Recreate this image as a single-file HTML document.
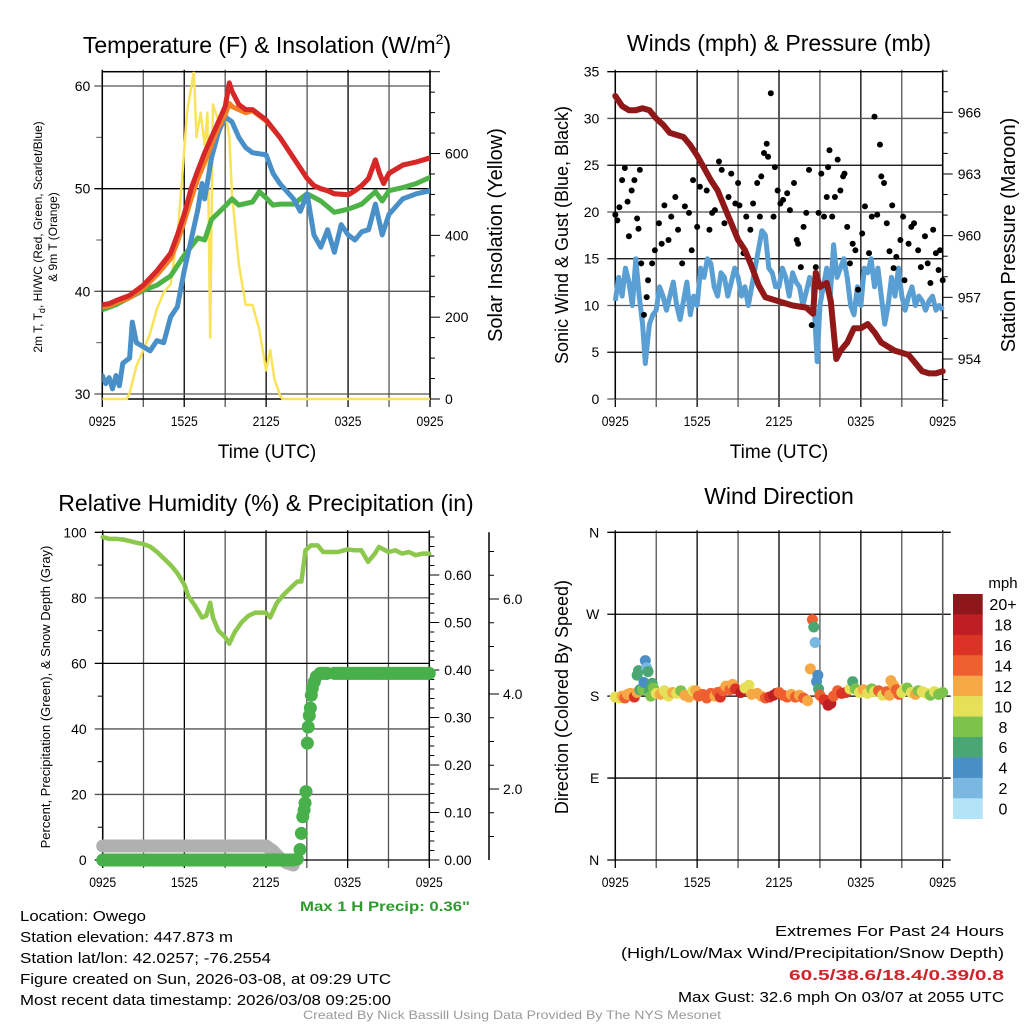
<!DOCTYPE html>
<html><head><meta charset="utf-8"><style>
html,body{margin:0;padding:0;background:#fff;}
svg{display:block;font-family:"Liberation Sans",sans-serif;}
</style></head><body>
<svg id="s" width="1024" height="1024" viewBox="0 0 1024 1024" xmlns="http://www.w3.org/2000/svg"></svg>
<script>
// ---------- DATA ----------
const timeLabels = ["0925","1525","2125","0325","0925"];
const tRedH = [0,0.5,1,2,3,4,5,5.5,6,6.5,7,7.5,8,8.5,9,9.3,9.5,10,10.5,11,11.5,12,13,14,15,15.5,16,16.5,17,18,18.5,19,19.5,20,20.3,20.6,21,22,23,24];
const tRed = [38.7,38.8,39.1,39.6,40.6,42,43.7,45.5,47.5,50,51.8,53.5,55,56.5,58,60.3,59.5,58.2,57.7,57.7,57.2,56.7,55,53,51,50.3,50,49.8,49.5,49.4,49.8,50.3,51,52.8,51.5,50.5,51.5,52.3,52.6,53];
const tOrange = [38.5,38.6,38.9,39.4,40.3,41.6,43.2,44.8,46.8,49,51,52.6,54.3,56,57.2,58.3,58,57.7,57.4,57.6,57.1,56.6,55,53,51,50.3,50,49.8,49.5,49.4,49.8,50.3,51,52.8,51.5,50.5,51.5,52.3,52.6,53];
const tGreenH = [0,1,2,3,4,5,6,7,7.5,8,9,9.5,10,11,11.5,12,12.5,13,14,15,16,17,18,19,20,20.5,21,22,23,24];
const tGreen = [38.2,38.7,39.4,40.1,40.6,41.5,43.5,45.2,45.0,47,48.3,49,48.4,48.7,49.7,49.1,48.4,48.5,48.5,49.5,48.8,47.7,48,48.5,49.7,48.8,49.8,50.1,50.5,51.1];
const tBlueH = [0,0.25,0.5,0.75,1,1.25,1.5,2,2.2,2.5,3,3.5,4,4.5,5,5.5,6,6.5,7,7.3,7.5,8,8.5,9,9.5,10,10.5,11,12,12.5,13,14,14.5,15,15.5,16,16.5,17,17.5,18,18.5,19,19.5,20,20.5,21,22,23,24];
const tBlue = [31.8,31,31.6,30.5,31.8,30.8,33,33.5,37,35,34.6,34.2,35.2,35,37.5,38.5,42,45,48,50.5,49,53,55.5,57,56.5,55,54,53.5,53.3,51.5,50.5,49,47.8,49.5,45.5,44.3,46,43.8,46.5,45.5,45,45.8,46,48.5,45.5,47.5,49,49.5,49.8];
const solarH = [0,1.8,2,2.5,3,3.5,4,4.5,5,5.5,5.8,6.2,6.5,6.7,6.9,7.2,7.5,7.7,7.9,8.1,8.5,9,9.3,9.5,10,10.5,11,11.5,12,12.3,12.6,13,13.2,24];
const solar = [0,0,15,80,120,160,220,260,280,400,520,700,760,800,640,700,620,700,150,720,680,700,640,500,330,230,230,170,70,120,50,10,0,0];
const windH = [0,0.25,0.5,0.75,1,1.25,1.5,1.75,2,2.2,2.5,2.75,3,3.25,3.5,3.75,4,4.25,4.5,4.75,5,5.25,5.5,5.75,6,6.25,6.5,6.75,7,7.25,7.5,7.75,8,8.25,8.5,8.75,9,9.25,9.5,9.75,10,10.25,10.5,10.75,11,11.25,11.5,11.75,12,12.25,12.5,12.75,13,13.25,13.5,13.75,14,14.25,14.5,14.8,15,15.25,15.5,15.75,16,16.25,16.5,16.75,17,17.25,17.5,17.75,18,18.25,18.5,18.75,19,19.25,19.5,19.75,20,20.25,20.5,20.75,21,21.25,21.5,21.75,22,22.25,22.5,22.75,23,23.25,23.5,23.75,24];
const wind = [10.5,13,11,14,12.5,10,15,11,8,3.8,8,9,9.5,12,11,9.5,11,12.5,10,8.5,10.5,12.5,9,11,10,14,13,15,14.5,12,11,13.5,13,11,12.5,14,13,11,12,10,12,14,16,18,17.5,14,13.5,12,12,14,13,11,13.5,12.5,12,10,11.5,13,12,4,10,12,14,11,16.5,13,14,15,13,10,9,12,10,14,13.5,15,12,14,11,8,10,13,11,14,11,9.5,11,12,10,11,10.5,9.5,10.5,11,9.5,10,9.5];
const presH = [0,0.5,1,1.5,2,2.5,3,3.5,4,5,5.5,6,6.5,7,7.5,8,8.5,9,9.5,10,10.5,11,12,13,14,14.5,14.7,15,15.5,15.8,16.2,16.5,17,17.5,18,18.5,19,19.5,20,20.5,21,21.5,22,22.5,23,23.5,24];
const pres = [966.8,966.3,966.1,966.1,966.2,966.1,965.7,965.4,965.0,964.8,964.4,963.9,963.3,962.7,962.2,961.4,960.6,959.8,959.3,958.5,957.6,957.0,956.8,956.6,956.5,956.2,958.2,957.5,957.7,956.8,954.0,954.4,954.8,955.5,955.5,955.7,955.3,954.8,954.6,954.4,954.3,954.2,953.8,953.4,953.3,953.3,953.4];
const gustH = [0,0.15,0.3,0.5,0.7,0.9,1.0,1.2,1.4,1.6,1.8,1.7,1.9,2.1,2.3,2.4,2.7,2.9,3.2,3.4,3.6,3.9,4.1,4.4,4.6,4.9,5.1,5.4,5.6,5.7,6.0,6.2,6.5,6.7,6.9,7.1,7.3,7.6,7.8,8.0,8.3,8.5,8.8,9.0,9.1,9.4,9.6,9.9,10.1,10.4,10.6,10.7,10.9,11.1,11.2,11.4,11.6,11.7,11.9,12.1,12.3,12.6,12.8,13.1,13.3,13.4,13.6,13.8,14.0,14.2,14.4,14.7,14.9,15.1,15.3,15.5,15.6,15.7,15.9,16.1,16.3,16.5,16.7,16.8,17.0,17.2,17.4,17.6,17.8,18.1,18.3,18.6,18.8,19.0,19.2,19.4,19.5,19.7,19.9,20.1,20.3,20.4,20.6,20.9,21.1,21.2,21.5,21.7,21.9,22.2,22.4,22.7,22.9,23.1,23.3,23.5,23.7,23.8,24];
const gust = [19.7,19.1,20.5,23.4,24.7,21.1,17.4,22.3,23.4,19.3,24.5,18.2,14.5,9,10.9,12.7,14.5,15.9,18.8,16.6,20.7,17,19.5,21.6,18.1,14.5,20.6,19.9,15.9,23.4,18.4,22.7,24.8,22.3,18.1,19.9,20.2,25.4,24.5,18.8,21.6,24.1,20.9,23.1,20.7,15.6,19.5,18.1,20.9,23.1,19.5,23.8,26.3,27.3,25.9,32.7,19.5,24.8,22.3,20.9,21.3,22,20.2,23.1,17,16.6,14.1,18.4,19.9,24.5,7.9,14.1,19.9,24.1,19.5,21.6,24.8,26.6,19.5,21.6,25.6,22.3,23.8,24.1,18.4,14.5,16.6,15.9,11.7,17.7,20.6,15.6,19.5,30.2,19.7,27.2,23.8,23.1,18.8,15.8,20.7,14,15.2,17,19.5,12.7,16.6,18.4,18.8,15.9,14.1,17.4,14.5,12.4,18.1,15.6,13.8,15.9,12.7];
const rhH = [0,0.5,1,1.5,2,2.5,3,3.5,4,4.5,5,5.5,6,6.3,6.8,7.3,7.6,7.9,8.1,8.5,9,9.3,9.7,10.2,10.7,11.2,12,12.3,12.8,13.3,13.8,14.3,14.6,14.9,15.3,15.8,16.2,16.7,17.3,18,18.5,19,19.5,20,20.3,21,21.5,22,22.5,23,23.5,24];
const rh = [98.5,98,98,97.8,97.3,96.8,96.4,95.6,94,92,90,87.5,84,80.5,77.5,74,74.5,78.5,74,70,68,66,69.5,72.5,74.5,75.5,75.5,74,78.5,81,83,85,85,94.5,96,96,94,94,94,94.8,94.5,94.5,91,93.5,95.5,94,94.5,93.5,94,93,93.5,93.5];
const precipH = [0,1,2,3,4,5,6,7,8,9,10,11,12,13,14,14.3,14.5,14.6,14.7,14.8,14.87,14.94,15.04,15.1,15.18,15.26,15.33,15.4,15.55,15.7,15.97,16.5,17,18,19,20,21,22,23,24];
const precip = [0,0,0,0,0,0,0,0,0,0,0,0,0,0,0,0.002,0.022,0.056,0.091,0.105,0.12,0.144,0.246,0.28,0.304,0.32,0.347,0.361,0.375,0.386,0.393,0.393,0.393,0.393,0.393,0.393,0.393,0.393,0.393,0.393];
const snowH = [0,2,4,6,8,10,12,12.5,13,13.5,14];
const snow = [0.8,0.8,0.8,0.8,0.8,0.8,0.8,0.7,0.55,0.45,0.4];
const dirH = [0,0.3,0.5,0.7,0.9,1.1,1.3,1.4,1.6,1.8,1.6,1.7,2.0,2.1,2.2,2.3,2.4,2.5,2.6,2.7,2.8,3.0,3.3,3.6,3.9,4.2,4.5,4.8,5.1,5.4,5.7,5.9,6.1,6.4,6.7,7.0,7.3,7.5,7.7,7.9,8.1,8.4,8.6,8.8,9.2,9.5,9.8,10.0,10.4,10.7,11.0,11.3,11.6,11.8,12.0,12.3,12.6,12.9,13.2,13.5,13.8,14.1,14.3,14.45,14.55,14.65,14.75,14.85,14.9,15.0,15.3,15.6,15.8,16.0,16.3,16.6,16.9,17.2,17.4,17.6,17.9,18.2,18.5,18.8,19.0,19.3,19.6,19.9,20.1,20.2,20.4,20.6,20.8,21.0,21.2,21.4,21.7,22.0,22.2,22.5,22.8,23.1,23.4,23.7,24];
const dirDeg = [179,178,180,178,182,183,181,179,184,187,203,208,187,195,219,211,207,186,180,194,189,183,182,186,180,184,183,186,181,179,186,186,180,182,178,183,180,184,179,186,191,187,193,188,184,189,192,182,183,180,178,179,181,183,184,181,179,182,179,181,178,175,210,264,256,239,196,203,188,181,176,170,172,180,186,183,184,188,196,188,184,187,183,188,185,186,181,185,181,197,192,187,182,184,188,189,184,182,186,185,183,181,185,182,184];
const dirSpd = [10,10,12,14,12,13,12,16,12,7,6,6,8,4,4,2,6,6,8,6,8,10,12,10,10,12,10,8,12,12,10,12,14,14,14,14,12,14,16,14,12,14,12,16,18,10,10,12,12,12,14,16,18,18,14,14,14,12,14,12,14,12,12,14,6,2,4,4,6,14,16,18,18,14,14,16,16,10,6,8,10,12,10,8,10,14,10,14,12,12,12,14,14,10,10,8,10,12,8,10,10,8,10,8,8];
const cbLabels = ["20+","18","16","14","12","10","8","6","4","2","0"];
const cbColors = ["#8f161a","#bd1f25","#db3427","#ef6030","#f6a845","#e5e058","#7dc24b","#4aa773","#4a8ec6","#7ab8e2","#b3e3f7"];

// ---------- DRAW ----------
const NS="http://www.w3.org/2000/svg";
const svg=document.getElementById('s');
function mk(tag,attrs,parent){const e=document.createElementNS(NS,tag);for(const k in attrs)e.setAttribute(k,attrs[k]);(parent||svg).appendChild(e);return e;}
function txt(s,x,y,size,opts,parent){opts=opts||{};const a={x:x,y:y,'font-size':size,fill:opts.fill||'#000','text-anchor':opts.anchor||'middle'};
 if(opts.weight)a['font-weight']=opts.weight; if(opts.len){a.textLength=opts.len;a.lengthAdjust='spacingAndGlyphs';}
 if(opts.rot)a.transform='rotate(-90 '+x+' '+y+')';
 const e=mk('text',a,parent);e.textContent=s;return e;}
function scale(d0,d1,r0,r1){return v=>r0+(v-d0)/(d1-d0)*(r1-r0);}
function path(xs,ys,fx,fy){return xs.map((v,i)=>(i?'L':'M')+fx(v).toFixed(1)+','+fy(ys[i]).toFixed(1)).join('');}

function frame(g,x0,x1,y0,y1,xf){
 for(let h=0;h<=24;h+=3){const x=xf(h);const l=mk('line',{x1:x,x2:x,y1:y0-2,y2:y1+8,stroke:h%6==0?'#000':'#555','stroke-width':1.3},g);
  }
 timeLabels.forEach((t,i)=>{const e=txt(t,xf(i*6),y1+27,14,{len:27},g);});
}

// ===== Panel 1 =====
(function(){
 const g=mk('g',{});
 const x0=102.3,x1=430,y0=71.7,y1=399;
 const X=scale(0,24,x0,x1),Y=scale(30,60,394,86),YS=scale(0,800,399,71.7);
 frame(g,x0,x1,y0,y1,X);
 [30,40,50,60].forEach(v=>{const l=mk('line',{x1:x0-8,x2:x1,y1:Y(v),y2:Y(v),stroke:v==50?'#000':'#555','stroke-width':1.3},g);
  const t=txt(String(v),x0-12,Y(v)+5,14,{anchor:'end'},g);});
 [35,45,55].forEach(v=>mk('line',{x1:x0-6,x2:x0,y1:Y(v),y2:Y(v),stroke:'#555'},g));
 for(let v=0;v<=800;v+=50){const maj=v%200==0;mk('line',{x1:x1,x2:x1+(maj?10:5),y1:YS(v),y2:YS(v),stroke:'#000'},g);
  if(maj&&v<800){const t=txt(String(v),x1+15,YS(v)+5,14,{anchor:'start'},g);}}
 mk('rect',{x:x0,y:y0,width:x1-x0,height:y1-y0,fill:'none',stroke:'#000','stroke-width':1.5},g);
 const series=[[tGreenH,tGreen,'#4db346',5,'dewpoint-line'],[tBlueH,tBlue,'#4a90c8',5,'windchill-line'],[tRedH,tOrange,'#f47f25',5,'9m-temp-line'],[tRedH,tRed,'#d62828',5,'2m-temp-line']];
 const cp=mk('clipPath',{id:'c1'});mk('rect',{x:x0,y:y0,width:x1-x0,height:y1-y0+3},cp);
 const sg=mk('g',{'clip-path':'url(#c1)'},g);
 const sp=mk('path',{d:path(solarH,solar,X,YS),fill:'none',stroke:'#f9e35a','stroke-width':2.5,'stroke-linejoin':'round'},sg);
 
 series.forEach(s=>{const p=mk('path',{d:path(s[0],s[1],X,Y),fill:'none',stroke:s[2],'stroke-width':s[3],'stroke-linejoin':'round','stroke-linecap':'round'},sg);
  });
 let t=mk('text',{x:267,y:53,'font-size':23,'text-anchor':'middle'},g);t.innerHTML='Temperature (F) &amp; Insolation (W/m<tspan font-size="14" dy="-9">2</tspan><tspan dy="9">)</tspan>';
 
 t=txt('Time (UTC)',267,458,19,{},g);
 t=mk('text',{x:42,y:237,'font-size':12,'text-anchor':'middle',transform:'rotate(-90 42 237)'},g);t.innerHTML='2m T, T<tspan font-size="9" dy="3">d</tspan><tspan dy="-3">, HI/WC (Red, Green, Scarlet/Blue)</tspan>';
 
 t=txt('& 9m T (Orange)',57,237,12,{rot:1},g);
 t=txt('Solar Insolation (Yellow)',502,235,20,{rot:1},g);
})();

// ===== Panel 2 =====
(function(){
 const g=mk('g',{});
 const x0=615.3,x1=942.7,y0=71.7,y1=399;
 const X=scale(0,24,x0,x1),Y=scale(0,35,y1,y0),YP=scale(954,966,359,112.3);
 frame(g,x0,x1,y0,y1,X);
 for(let v=0;v<=35;v+=5){mk('line',{x1:x0-8,x2:x1,y1:Y(v),y2:Y(v),stroke:v%10==0?'#555':'#000','stroke-width':1.3},g);
  const t=txt(String(v),x0-16,Y(v)+5,14,{anchor:'end'},g);}
 for(let v=952;v<=968;v+=1){const maj=(v-954)%3==0;mk('line',{x1:x1,x2:x1+(maj?10:5),y1:YP(v),y2:YP(v),stroke:'#000'},g);
  if(maj&&v>=954&&v<=966){const t=txt(String(v),x1+15,YP(v)+5,14,{anchor:'start'},g);}}
 mk('line',{x1:x0,x2:x0,y1:y0,y2:y1,stroke:'#000','stroke-width':1.5},g);
 mk('line',{x1:x1,x2:x1,y1:y0,y2:y1,stroke:'#000','stroke-width':1.5},g);
 let p=mk('path',{d:path(windH,wind,X,Y),fill:'none',stroke:'#5a9fd4','stroke-width':5,'stroke-linejoin':'round'},g);
 
 gustH.forEach((h,i)=>{const c=mk('circle',{cx:X(h),cy:Y(gust[i]),r:3,fill:'#000'},g);
  });
 p=mk('path',{d:path(presH,pres,X,YP),fill:'none',stroke:'#911818','stroke-width':6,'stroke-linejoin':'round','stroke-linecap':'round'},g);
 
 let t=txt('Winds (mph) & Pressure (mb)',779,51,23,{},g);
 t=txt('Time (UTC)',779,458,19,{},g);
 t=txt('Sonic Wind & Gust (Blue, Black)',568,235,18,{rot:1},g);
 t=txt('Station Pressure (Maroon)',1015,235,20,{rot:1},g);
})();

// ===== Panel 3 =====
(function(){
 const g=mk('g',{});
 const x0=102.7,x1=429.3,y0=532.3,y1=860;
 const X=scale(0,24,x0,x1),Y=scale(0,100,y1,y0),YP=scale(0,0.6,860,575),YSn=scale(0,2,884,789);
 frame(g,x0,x1,y0,y1,X);
 for(let v=0;v<=100;v+=10){const maj=v%20==0;
  if(maj){mk('line',{x1:x0-8,x2:x1,y1:Y(v),y2:Y(v),stroke:(v==0||v==100||v==60)?'#000':'#555','stroke-width':1.3},g);
   const t=txt(String(v),x0-16,Y(v)+5,14,{anchor:'end'},g);}
  else mk('line',{x1:x0-5,x2:x0,y1:Y(v),y2:Y(v),stroke:'#000'},g);}
 for(let i=0;i<=34;i++){const v=i*0.02;const maj=i%5==0;mk('line',{x1:x1,x2:x1+(maj?10:5),y1:YP(v),y2:YP(v),stroke:'#000'},g);
  if(maj&&i<=30){const t=txt(v.toFixed(2),x1+15,YP(v)+5,14,{anchor:'start'},g);}}
 mk('line',{x1:489,x2:489,y1:y0,y2:y1,stroke:'#000','stroke-width':1.5},g);
 for(let v=0.5;v<=7;v+=0.5){const y=YSn(v);if(y<y0||y>y1)continue;const maj=v%2==0;mk('line',{x1:489,x2:489+(maj?10:5),y1:y,y2:y,stroke:'#000'},g);
  if(maj){const t=txt(v.toFixed(1),503,y+5,14,{anchor:'start'},g);}}
 mk('line',{x1:x0,x2:x0,y1:y0,y2:y1,stroke:'#000','stroke-width':1.5},g);
 mk('line',{x1:x1,x2:x1,y1:y0,y2:y1,stroke:'#000','stroke-width':1.5},g);
 for(let k=0;k<snowH.length-1;k++){for(let h=snowH[k];h<snowH[k+1];h+=0.1){const f=(h-snowH[k])/(snowH[k+1]-snowH[k]);const v=snow[k]+(snow[k+1]-snow[k])*f;
  const c=mk('circle',{cx:X(h),cy:YSn(v),r:6.5,fill:'#b0b0b0'},g);}}
 for(let k=0;k<precipH.length-1;k++){const step=precipH[k+1]-precipH[k]>0.5?0.1:precipH[k+1]-precipH[k];
  for(let h=precipH[k];h<precipH[k+1]-1e-6;h+=step){const f=(h-precipH[k])/(precipH[k+1]-precipH[k]);const v=precip[k]+(precip[k+1]-precip[k])*f;
   const c=mk('circle',{cx:X(h),cy:YP(v),r:6.5,fill:'#48b04a'},g);}}
 {const c=mk('circle',{cx:X(24),cy:YP(precip[precip.length-1]),r:6.5,fill:'#48b04a'},g);}
 const p=mk('path',{d:path(rhH,rh,X,Y),fill:'none',stroke:'#8cc84b','stroke-width':4.5,'stroke-linejoin':'round','stroke-linecap':'round'},g);
 
 let t=txt('Relative Humidity (%) & Precipitation (in)',266,511,23,{},g);
 t=txt('Percent, Precipitation (Green), & Snow Depth (Gray)',50,697,13,{rot:1},g);
 t=txt('Max 1 H Precip: 0.36"',385,911,14,{fill:'#2e9a2e',weight:'bold',len:170},g);
})();

// ===== Panel 4 =====
(function(){
 const g=mk('g',{});
 const x0=615.3,x1=942.7,y0=532.3,y1=860;
 const X=scale(0,24,x0,x1),Y=scale(0,360,y1,y0);
 frame(g,x0,x1,y0,y1,X);
 ['N','E','S','W','N'].forEach((d,i)=>{const v=i*90;mk('line',{x1:x0-8,x2:x1+8,y1:Y(v),y2:Y(v),stroke:'#000','stroke-width':1.3},g);
  const t=txt(d,x0-16,Y(v)+5,14,{anchor:'end'},g);});
 mk('line',{x1:x0,x2:x0,y1:y0,y2:y1,stroke:'#000','stroke-width':1.5},g);
 mk('line',{x1:x1,x2:x1,y1:y0,y2:y1,stroke:'#555','stroke-width':1.5},g);
 dirH.forEach((h,i)=>{const bin=Math.min(10,Math.floor(dirSpd[i]/2));const col=cbColors[10-bin];
  const c=mk('circle',{cx:X(h),cy:Y(dirDeg[i]),r:5.5,fill:col},g);});
 const cb=mk('g',{},g);
 const bh=(818.7-594)/11;
 cbColors.forEach((c,i)=>{const r=mk('rect',{x:953,y:594+i*bh,width:29.7,height:bh+0.3,fill:c},cb);
  const t=txt(cbLabels[i],1003,594+i*bh+bh/2+6,16,{anchor:'middle'},cb);});
 let t=txt('mph',1003,588,15,{anchor:'middle'},cb);
 t=txt('Wind Direction',779,504,23,{},g);
 t=txt('Direction (Colored By Speed)',568,697,18,{rot:1},g);
})();

// ===== Footer text =====
(function(){
 const g=mk('g',{});
 const L=[['Location: Owego',126],['Station elevation: 447.873 m',213],['Station lat/lon: 42.0257; -76.2554',251],['Figure created on Sun, 2026-03-08, at 09:29 UTC',371],['Most recent data timestamp: 2026/03/08 09:25:00',371]];
 L.forEach((l,i)=>{const t=txt(l[0],20,921+i*21,15,{anchor:'start',len:l[1]},g);});
 const g2=mk('g',{});
 const R=[['Extremes For Past 24 Hours',229,936,'#000',null],['(High/Low/Max Wind/Precipitation/Snow Depth)',383,958,'#000',null],['60.5/38.6/18.4/0.39/0.8',215,980,'#d0242b','bold'],['Max Gust: 32.6 mph On 03/07 at 2055 UTC',326,1002,'#000',null]];
 R.forEach(r=>{const t=txt(r[0],1004,r[2],15,{anchor:'end',len:r[1],fill:r[3],weight:r[4]},g2);});
 const t=txt('Created By Nick Bassill Using Data Provided By The NYS Mesonet',512,1019,12,{fill:'#999',len:418});
 
})();
</script>
</body></html>
